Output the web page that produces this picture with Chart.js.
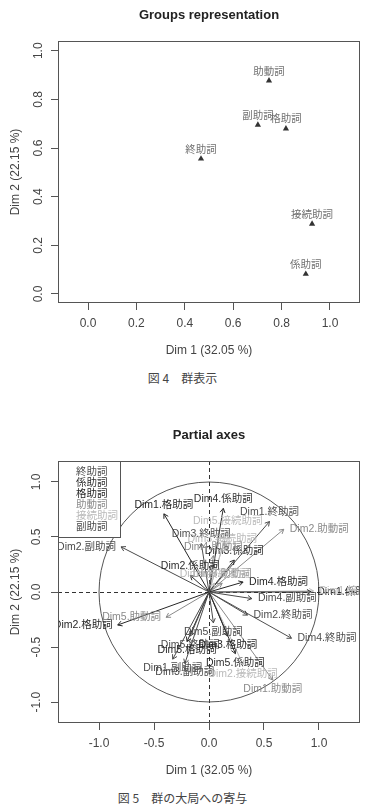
<!DOCTYPE html>
<html lang="ja">
<head>
<meta charset="utf-8">
<title>Groups representation / Partial axes</title>
<script src="https://cdn.jsdelivr.net/npm/chart.js@4/dist/chart.umd.min.js"></script>
<style>
  html, body { margin: 0; padding: 0; background: #fff; }
  #page { position: relative; width: 365px; height: 807px; overflow: hidden; }
  canvas { position: absolute; left: 0; }
  #chart-groups  { top: 0; }
  #chart-partial { top: 420px; }
  .caption {
    position: absolute; left: 0; width: 365px; text-align: center;
    font: 12px/16px "Noto Sans CJK JP", sans-serif; color: #444;
  }
</style>
</head>
<body>
<div id="page">
  <canvas id="chart-groups" width="365" height="365"></canvas>
  <div class="caption" style="top:370px">図 4　群表示</div>
  <canvas id="chart-partial" width="365" height="365"></canvas>
  <div class="caption" style="top:790px">図 5　群の大局への寄与</div>
</div>
<script>
/* ── Data ───────────────────────────────────────────────────── */
const GROUPS       = ['終助詞', '係助詞', '格助詞', '助動詞', '接続助詞', '副助詞'];
const GROUP_COLORS = ['#4e4e4e', '#2e2e2e', '#262626', '#8a8a8a', '#bababa', '#4a4a4a'];

/* Fig 4: group coordinates */
const GROUP_X = [0.467, 0.900, 0.818, 0.748, 0.926, 0.702];
const GROUP_Y = [0.556, 0.082, 0.680, 0.877, 0.288, 0.695];

/* Fig 5: partial axes (dimension, group index, coordinates, label side like R pos) */
const AXIS_DIM   = [1, 2, 3, 4, 5,   1, 2, 3, 4, 5,   1, 2, 3, 4, 5,   1, 2, 3, 4, 5,   1, 2, 3, 4, 5,   1, 2, 3, 4, 5];
const AXIS_GROUP = [0, 0, 0, 0, 0,   1, 1, 1, 1, 1,   2, 2, 2, 2, 2,   3, 3, 3, 3, 3,   4, 4, 4, 4, 4,   5, 5, 5, 5, 5];
const AXIS_X     = [0.55, 0.35, -0.07, 0.75, -0.17,
                    0.93, -0.17, 0.23, 0.13, 0.24,
                    -0.41, -0.83, 0.17, 0.31, -0.20,
                    0.58, 0.68, 0.12, 0.04, -0.39,
                    0.95, 0.31, 0.12, 0.05, 0.17,
                    -0.33, -0.80, -0.22, 0.39, 0.04];
const AXIS_Y     = [0.64, -0.21, 0.44, -0.42, -0.40,
                    0.00, 0.15, 0.29, 0.76, -0.56,
                    0.71, -0.30, -0.40, 0.09, -0.45,
                    -0.80, 0.57, 0.08, 0.33, -0.23,
                    0.01, -0.66, 0.40, 0.08, 0.56,
                    -0.61, 0.41, -0.65, -0.06, -0.28];
const AXIS_POS   = [3, 4, 3, 4, 1,
                    4, 3, 3, 3, 1,
                    3, 2, 1, 4, 1,
                    1, 4, 3, 3, 2,
                    4, 1, 3, 3, 3,
                    1, 2, 1, 4, 1];

const TICKS_G_X = [0, 0.2, 0.4, 0.6, 0.8, 1.0];
const TICKS_G_Y = [0, 0.2, 0.4, 0.6, 0.8, 1.0];
const TICKS_P   = [-1.0, -0.5, 0, 0.5, 1.0];

const TITLE_X = 'Dim 1 (32.05 %)';
const TITLE_Y = 'Dim 2 (22.15 %)';

/* ── Shared styling ─────────────────────────────────────────── */
const SANS     = '"Liberation Sans", Arial, sans-serif';
const LABEL_FT = '10.5px "Liberation Sans", "Noto Sans CJK JP", sans-serif';
const AXIS_CLR = '#555';
const TEXT_CLR = '#444';

function axisOpts(horizontal, min, max, ticks, title) {
  return {
    type: 'linear',
    min, max,
    afterBuildTicks: s => { s.ticks = ticks.map(v => ({ value: v })); },
    afterFit: s => { if (horizontal) s.height = 62; else s.width = 58; },
    grid:   { drawOnChartArea: false, drawTicks: true, tickLength: 7, color: AXIS_CLR },
    border: { display: false },
    ticks: horizontal
      ? { autoSkip: false, maxRotation: 0, padding: 6, color: TEXT_CLR, font: { family: SANS, size: 12 }, callback: v => v.toFixed(1) }
      : { autoSkip: false, minRotation: 90, maxRotation: 90, crossAlign: 'center', padding: 4,
          color: TEXT_CLR, font: { family: SANS, size: 12 }, callback: v => v.toFixed(1) },
    title: {
      display: true, text: title, color: TEXT_CLR, font: { family: SANS, size: 12 },
      padding: horizontal ? { top: 0, bottom: 7 } : { top: 8, bottom: 0 },
    },
  };
}

/* box round the plot region + bold title above it */
const framePlugin = {
  id: 'frame',
  afterDraw(chart, args, opts) {
    const { ctx, chartArea: a } = chart;
    ctx.save();
    ctx.strokeStyle = AXIS_CLR;
    ctx.lineWidth = 1;
    ctx.strokeRect(Math.round(a.left) + 0.5, Math.round(a.top) + 0.5,
                   Math.round(a.width) - 1, Math.round(a.height) - 1);
    ctx.font = 'bold 13px ' + SANS;
    ctx.fillStyle = '#222';
    ctx.textAlign = 'center';
    ctx.textBaseline = 'middle';
    ctx.fillText(opts.title, (a.left + a.right) / 2, 15);
    ctx.restore();
  },
};

const baseOptions = {
  responsive: false,
  animation: false,
  layout: { padding: { top: 41, right: 5, bottom: 0, left: 0 } },
  plugins: { legend: { display: false }, tooltip: { enabled: false } },
};

/* ── Fig 4: groups representation ───────────────────────────── */
const groupLabels = {
  id: 'groupLabels',
  afterDatasetsDraw(chart) {
    const { ctx } = chart;
    const pts = chart.getDatasetMeta(0).data;
    ctx.save();
    ctx.font = LABEL_FT;
    ctx.fillStyle = '#707070';
    ctx.textAlign = 'center';
    ctx.textBaseline = 'middle';
    pts.forEach((p, i) => ctx.fillText(GROUPS[i], p.x, p.y - 9));
    ctx.restore();
  },
};

new Chart(document.getElementById('chart-groups'), {
  type: 'scatter',
  data: {
    datasets: [{
      data: GROUP_X.map((x, i) => ({ x, y: GROUP_Y[i] })),
      pointStyle: 'triangle',
      pointRadius: 3.6,
      backgroundColor: '#333',
      borderColor: '#333',
      borderWidth: 0,
    }],
  },
  options: {
    ...baseOptions,
    scales: {
      x: axisOpts(true,  -0.124, 1.124, TICKS_G_X, TITLE_X),
      y: axisOpts(false, -0.037, 1.040, TICKS_G_Y, TITLE_Y),
    },
    plugins: { ...baseOptions.plugins, frame: { title: 'Groups representation' } },
  },
  plugins: [framePlugin, groupLabels],
});

/* ── Fig 5: partial axes ────────────────────────────────────── */
function arrowHead(ctx, x0, y0, x1, y1) {
  const ang = Math.atan2(y1 - y0, x1 - x0);
  const len = 5, spread = Math.PI / 6;
  ctx.beginPath();
  ctx.moveTo(x1 - len * Math.cos(ang - spread), y1 - len * Math.sin(ang - spread));
  ctx.lineTo(x1, y1);
  ctx.lineTo(x1 - len * Math.cos(ang + spread), y1 - len * Math.sin(ang + spread));
  ctx.stroke();
}

function sideLabel(ctx, text, x, y, pos) {
  if (pos === 1)      { ctx.textAlign = 'center'; ctx.fillText(text, x, y + 9); }
  else if (pos === 2) { ctx.textAlign = 'right';  ctx.fillText(text, x - 5, y); }
  else if (pos === 3) { ctx.textAlign = 'center'; ctx.fillText(text, x, y - 9); }
  else                { ctx.textAlign = 'left';   ctx.fillText(text, x + 6, y); }
}

const partialAxes = {
  id: 'partialAxes',
  beforeDatasetsDraw(chart) {
    const { ctx, chartArea: a, scales: { x, y } } = chart;
    const cx = x.getPixelForValue(0), cy = y.getPixelForValue(0);
    const r  = x.getPixelForValue(1) - cx;
    ctx.save();
    ctx.beginPath();
    ctx.rect(a.left, a.top, a.width, a.height);
    ctx.clip();
    ctx.strokeStyle = '#555';
    ctx.lineWidth = 1;
    ctx.beginPath();
    ctx.arc(cx, cy, r, 0, Math.PI * 2);
    ctx.stroke();
    ctx.setLineDash([4, 3]);
    ctx.strokeStyle = '#333';
    ctx.beginPath();
    ctx.moveTo(Math.round(cx) + 0.5, a.top);
    ctx.lineTo(Math.round(cx) + 0.5, a.bottom);
    ctx.moveTo(a.left, Math.round(cy) + 0.5);
    ctx.lineTo(a.right, Math.round(cy) + 0.5);
    ctx.stroke();
    ctx.restore();
  },
  afterDatasetsDraw(chart) {
    const { ctx, chartArea: a } = chart;
    ctx.save();
    ctx.beginPath();
    ctx.rect(a.left, a.top, a.width, a.height);
    ctx.clip();
    ctx.lineWidth = 1;
    ctx.font = LABEL_FT;
    ctx.textBaseline = 'middle';
    AXIS_X.forEach((_, i) => {
      const [p0, p1] = chart.getDatasetMeta(i).data;
      const color = GROUP_COLORS[AXIS_GROUP[i]];
      ctx.strokeStyle = color;
      arrowHead(ctx, p0.x, p0.y, p1.x, p1.y);
      ctx.fillStyle = color;
      sideLabel(ctx, 'Dim' + AXIS_DIM[i] + '.' + GROUPS[AXIS_GROUP[i]], p1.x, p1.y, AXIS_POS[i]);
    });
    ctx.restore();

    // legend, top-left corner
    ctx.save();
    ctx.fillStyle = '#fff';
    ctx.strokeStyle = AXIS_CLR;
    ctx.fillRect(a.left, a.top, 62, 76);
    ctx.strokeRect(Math.round(a.left) + 0.5, Math.round(a.top) + 0.5, 62, 76);
    ctx.font = LABEL_FT;
    ctx.textAlign = 'left';
    ctx.textBaseline = 'middle';
    GROUPS.forEach((g, i) => {
      ctx.fillStyle = GROUP_COLORS[i];
      ctx.fillText(g, a.left + 18, a.top + 11 + i * 11);
    });
    ctx.restore();
  },
};

new Chart(document.getElementById('chart-partial'), {
  type: 'scatter',
  data: {
    datasets: AXIS_X.map((x, i) => ({
      data: [{ x: 0, y: 0 }, { x, y: AXIS_Y[i] }],
      showLine: true,
      borderColor: GROUP_COLORS[AXIS_GROUP[i]],
      borderWidth: 1,
      pointRadius: 0,
    })),
  },
  options: {
    ...baseOptions,
    scales: {
      x: axisOpts(true,  -1.373, 1.373, TICKS_P, TITLE_X),
      y: axisOpts(false, -1.19,  1.19,  TICKS_P, TITLE_Y),
    },
    plugins: { ...baseOptions.plugins, frame: { title: 'Partial axes' } },
  },
  plugins: [partialAxes, framePlugin],
});
</script>
</body>
</html>
